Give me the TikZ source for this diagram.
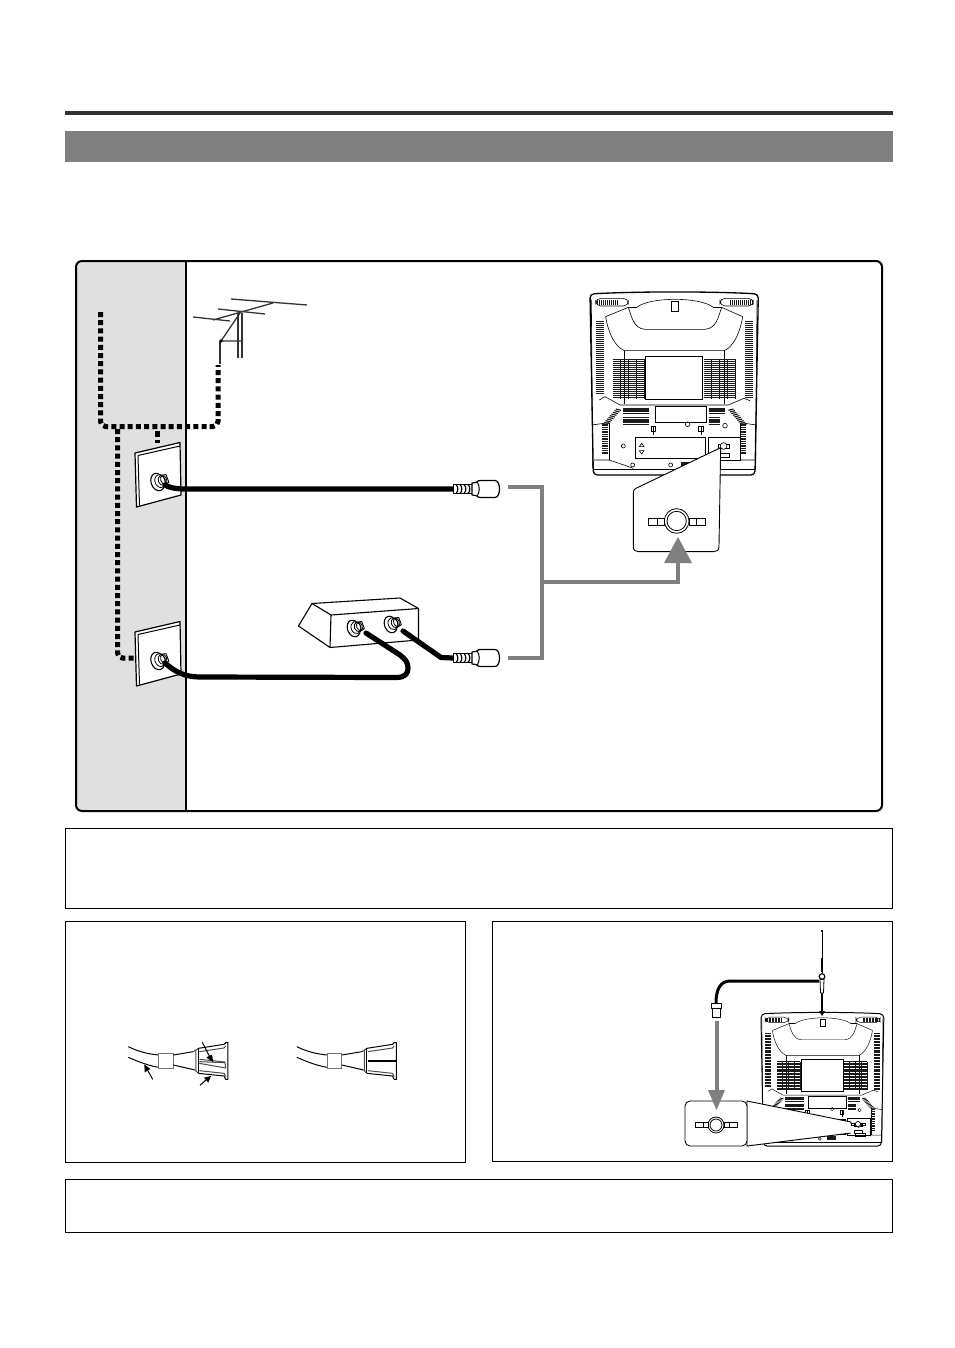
\documentclass[tikz,border=0pt]{standalone}
\usetikzlibrary{calc}
\definecolor{bandgray}{HTML}{808080}
\definecolor{panelgray}{HTML}{E0E0E0}
\definecolor{rulegray}{HTML}{333333}
\definecolor{vent}{HTML}{1A1A1A}
\tikzset{
  framebox/.style={draw=black,line width=1pt,fill=white,inner sep=0pt,outer sep=0pt,anchor=north west},
  dotcable/.style={draw=black,line width=5pt,dash pattern=on 5pt off 3.2pt,rounded corners=5pt},
  coax/.style={draw=black,line width=5.2pt,line cap=round,line join=round},
  greyline/.style={draw=bandgray,line width=4pt,line join=miter},
  greyhead/.style={fill=bandgray,draw=none},
  outline/.style={draw=black,line width=1pt,fill=white,line join=round},
  ant/.style={draw=rulegray,line width=1.3pt},
  tip/.style={fill=black,draw=none},
}
\newlength{\tvlw}\newlength{\tvvent}
% hatch blocks: x1 x2 y1 y2 next
\newcommand{\hatchblock}[5]{%
  \foreach \yy in {#3,#5,...,#4}{\draw[vent,line width=\tvvent] (#1,\yy) -- (#2,\yy);}}
\newcommand{\vhatch}[5]{%
  \foreach \xx in {#1,#5,...,#2}{\draw[vent,line width=.8\tvvent] (\xx,#3) -- (\xx,#4);}}
% TV back, in its own coordinates
\newcommand{\tvback}{%
  \draw[line width=2.2\tvlw,fill=white,rounded corners=4pt] (60,42) .. controls (200,34) and (430,34) .. (565,42) -- (555,585) -- (70,585) -- cycle;
  \begin{scope}[line width=\tvlw,draw=black]
  \draw (68,565) -- (64,60) (557,565) -- (561,60);
  \draw (200,82) .. controls (240,50) and (390,50) .. (430,82);
  \draw (175,82) -- (200,82) (430,82) -- (455,82);
  \draw (175,82) .. controls (185,110) and (190,145) .. (225,148) -- (405,148) .. controls (440,145) and (445,110) .. (455,82);
  \draw (303,65) rectangle (325,93);
  \draw[rounded corners=5pt] (77,55) rectangle (175,78);
  \draw[rounded corners=5pt] (450,55) rectangle (550,78);
  \draw (107,110) -- (175,82) (518,110) -- (455,82);
  \draw (107,110) .. controls (115,160) and (135,200) .. (163,212) -- (463,212) .. controls (490,200) and (510,160) .. (518,110);
  \draw (163,212) -- (163,372) (463,212) -- (463,372);
  \draw (88,360) -- (105,350) -- (150,375) -- (475,375) -- (522,355) -- (540,362);
  \draw (226,229) rectangle (398,358);
  \draw (65,435) -- (118,428) (558,435) -- (512,428);
  \draw (118,428) -- (118,540) (512,428) -- (512,540);
  \draw (72,540) -- (118,540) -- (190,565) (510,540) -- (555,540);
  \draw (70,568) -- (555,568);
  \draw (255,380) rectangle (410,428);
  \draw (195,473) rectangle (405,535);
  \draw (415,472) rectangle (510,540);
  \draw (208,500) -- (215,490) -- (222,500) -- cycle (208,512) -- (215,522) -- (222,512) -- cycle;
  \draw (353,433) circle (7) (465,437) circle (7) (160,498) circle (6) (188,555) circle (6) (302,555) circle (6);
  \draw[line width=1.6\tvlw] (250,438) -- (250,465) (393,438) -- (393,465);
  \draw (243,438) rectangle (257,455) (386,438) rectangle (400,455);
  \draw (445,492) rectangle (478,504) (445,520) rectangle (478,532);
  \draw[fill=white] (461,498) circle (10);
  \end{scope}
  \hatchblock{128}{222}{238}{356}{244}
  \hatchblock{403}{497}{238}{356}{244}
  \vhatch{150}{222}{238}{356}{174}
  \vhatch{425}{497}{238}{356}{449}
  \hatchblock{78}{102}{124}{340}{130}
  \hatchblock{526}{548}{124}{356}{130}
  \hatchblock{160}{238}{385}{404}{390}
  \hatchblock{160}{238}{413}{433}{418}
  \hatchblock{416}{466}{385}{404}{390}
  \hatchblock{416}{450}{413}{433}{418}
  \vhatch{82}{146}{60}{74}{88}
  \vhatch{480}{546}{60}{74}{486}
  \hatchblock{97}{114}{435}{520}{442}
  \hatchblock{512}{529}{435}{520}{442}
  \foreach \k in {0,...,9}{\draw[vent,line width=\tvvent] ($(98,432)+(\k*4.4,-\k*5)$) -- ++(15,4);
    \draw[vent,line width=\tvvent] ($(530,432)+(-\k*4.4,-\k*5)$) -- ++(-15,4);}
  \fill[vent] (332,545) rectangle (370,560);
}
% coax end plug
\newcommand{\coaxplug}[2]{%
  \begin{scope}[shift={(#1,#2)}]
    \draw[outline,line width=.9pt] (0,-4.5) -- (20,-4.5) -- (20,4.5) -- (0,4.5) -- cycle;
    \foreach \t in {3,7,11,15}{\draw[line width=1.2pt] (\t,-4.5) .. controls (\t+2.5,-2) and (\t+2.5,2) .. (\t,4.5);}
    \draw[outline,line width=1.2pt] (19,-6) -- (23,-6.5) .. controls (25,-8.5) and (26,-8.5) .. (29,-8.5) -- (42,-8.5) .. controls (48,-8.5) and (48,8.5) .. (42,8.5) -- (29,8.5) .. controls (26,8.5) and (25,8.5) .. (23,6.5) -- (19,6) -- cycle;
    \draw[line width=1pt] (24,-7.5) .. controls (27,-3) and (27,3) .. (24,7.5);
  \end{scope}}
% socket stud seen at an angle
\newcommand{\stud}[3][1]{%
  \begin{scope}[shift={(#2,#3)},scale=#1,rotate=20]
    \draw[outline,line width=.9pt,fill=white] (1,-6) -- (9,-4) -- (9,4) -- (1,6) -- cycle;
    \draw[outline,line width=1.1pt] (-1.5,0) ellipse (6.5 and 9);
    \draw[line width=.8pt,fill=white] (1,0) ellipse (5 and 6.5);
    \draw[line width=.8pt] (3,0) ellipse (3.5 and 5);
    \draw[line width=.8pt] (5,0) ellipse (3 and 4.5);
  \end{scope}}
% crimped lead end, zoomed coordinates
\newcommand{\crimp}{%
  \draw[line width=1pt] (55,80) .. controls (85,95) and (115,102) .. (146,105);
  \draw[line width=1pt] (55,112) .. controls (85,125) and (115,137) .. (146,142);
  \draw[line width=1pt,draw=black!55] (146,100) rectangle (190,145);
  \draw[line width=1pt] (190,105) -- (250,95) (190,135) -- (255,150);
  \draw[line width=1pt,draw=black!70] (250,95) -- (265,85) (255,150) -- (265,160) (258,92) -- (258,155);
  \draw[line width=1pt] (265,85) -- (265,160);
  \draw[line width=1pt] (265,85) -- (342,73) -- (347,68) -- (354,68) -- (354,178) -- (347,178) -- (342,168) -- (265,160);
  \draw[line width=1pt,draw=black!70] (268,95) -- (342,84) -- (347,78);
  \draw[line width=1pt,draw=black!70] (268,152) -- (342,160) -- (347,170);
}
\begin{document}
\begin{tikzpicture}[x=1pt,y=-1pt]
\path[use as bounding box,fill=white] (0,0) rectangle (954,1348);
% header
\fill[rulegray] (65,111) rectangle (893,115);
\fill[bandgray] (65,131) rectangle (893,162);
% main frame
\begin{scope}
  \clip[rounded corners=6pt] (76,261) rectangle (882,811);
  \fill[panelgray] (76,261) rectangle (186,811);
\end{scope}
\draw[line width=2pt,rounded corners=6pt] (76,261) rectangle (882,811);
\draw[line width=1.6pt] (186,261) -- (186,811);
% other boxes
\node[framebox,minimum width=827pt,minimum height=80pt] (note1) at (65.3,828.5) {};
\node[framebox,minimum width=400.5pt,minimum height=241pt] (crimpbox) at (65.3,921.5) {};
\node[framebox,minimum width=400pt,minimum height=240pt] (rodbox) at (492.5,921.5) {};
\node[framebox,minimum width=827pt,minimum height=53pt] (note2) at (65.3,1179.5) {};
% coordinates of cables
\coordinate (wallA) at (165,485);
\coordinate (wallB) at (165,663);
\coordinate (plugA) at (453,489);
\coordinate (plugB) at (453,658);
\coordinate (boxIn) at (366,633);
\coordinate (boxOut) at (403,631);
% antenna
\draw[ant] (231,299) -- (307,305) (218,309) -- (265,314) (193,317) -- (230,321);
\draw[ant] (213,320) -- (273,303);
\draw[ant] (240,313) -- (221,341) -- (243,341);
\draw[ant] (238,313) -- (238,358) (242,313) -- (242,358);
\draw[ant] (220,341) -- (220,364);
\fill[black] (221,341) circle (1.8);
% dotted in-wall cabling
\coordinate (antFoot) at (218,365);
\coordinate (riserTop) at (100.5,312);
\coordinate (jogA) at (100.5,426.5);
\coordinate (jogB) at (218,426.5);
\coordinate (teeA) at (117.5,429);
\coordinate (teeB) at (157,431);
\draw[dotcable] (riserTop) -- (jogA) -- (jogB) -- (antFoot);
\draw[dotcable] (teeA) -- (117.5,658) -- (134,658);
\draw[dotcable,dash pattern=on 6pt off 3pt] (teeB) -- (157,443);
% wall plates
\foreach \dy in {0,179}{
  \begin{scope}[shift={(0,\dy)}]
  \draw[line width=1.2pt,fill=white,line join=round] (135,453) -- (180,442.5) -- (181,495) -- (136.5,507) -- cycle;
  \draw[line width=1pt] (138,455.5) -- (180,446) (138,455.5) -- (139.5,505.5);
  \stud{159}{481.5}
  \end{scope}
}
% cables
\draw[coax] (wallA) .. controls (172,489) and (180,489) .. (190,489) -- (plugA);
\coaxplug{453}{489}
% splitter
\draw[outline,line width=1.1pt] (312,603.5) -- (400,598) -- (418.5,608.5) -- (418.5,640) -- (330,647.5) -- (298.5,626) -- cycle;
\draw[line width=1.1pt] (312,603.5) -- (331,615) -- (418.5,608.5) (331,615) -- (330,647.5);
\stud[.95]{355}{628}
\stud[.95]{392}{624}
\draw[coax] (wallB) .. controls (175,672) and (185,677) .. (200,677) -- (396,677.5) .. controls (406,677.5) and (408,673) .. (408,668) .. controls (408,662) and (405,659) .. (400,655) -- (boxIn);
\draw[coax] (boxOut) -- (441,657.5) -- (plugB);
\coaxplug{453}{658}
% grey connection
\draw[greyline] (508,487) -- (542,487) -- (542,658) -- (508,658);
\draw[greyline] (542,582) -- (678,582) -- (678,562);
% first TV
\setlength{\tvlw}{.6pt}\setlength{\tvvent}{1.15pt}
\begin{scope}[shift={(570,280)},scale=.3333]
\tvback
\draw[outline,line width=.9pt] (190,650) -- (190,640) .. controls (190,630) and (194,627) .. (198,625) -- (452,503) -- (447,800) .. controls (447,811) and (440,815) .. (432,815) -- (205,815) .. controls (196,815) and (190,811) .. (190,800) -- cycle;
\draw[line width=.8pt,fill=white] (320,723) circle (37);
\draw[line width=.8pt,fill=white] (320,723) circle (29);
\draw[line width=.8pt,fill=white] (234,714) rectangle (283,737) (357,714) rectangle (405,737);
\draw[line width=.8pt] (262,714) -- (262,737) (378,714) -- (378,737);
\end{scope}
\draw[greyhead] (664,563) -- (678,537) -- (692,563) -- cycle;
% crimp illustrations
\begin{scope}[shift={(110,1020)},scale=.3333]
\crimp
\draw[line width=1pt,draw=black!70] (268,125) -- (345,128) -- (347,144) -- (268,130);
\draw[line width=1pt,draw=black!70] (268,118) -- (345,126);
\draw[line width=1pt] (128,178) -- (112,149);
\fill[tip] (103,133) -- (104,157) -- (121,147) -- cycle;
\draw[line width=1pt] (277,67) -- (298,108);
\fill[tip] (310,127) -- (289,112) -- (306,104) -- cycle;
\draw[line width=1pt] (270,196) -- (288,180);
\fill[tip] (303,168) -- (282,173) -- (295,188) -- cycle;
\end{scope}
\begin{scope}[shift={(278.5,1020)},scale=.3333]
\crimp
\draw[line width=2pt] (268,122) -- (354,122);
\end{scope}
% rod antenna and second TV
\setlength{\tvlw}{.45pt}\setlength{\tvvent}{.85pt}
\begin{scope}[shift={(746.3,1003.7)},scale=.2435]
\tvback
\end{scope}
\coordinate (rodBase) at (822,990);
\coordinate (tvTop) at (822,1014);
\coordinate (leadStart) at (819,981);
\coordinate (leadEnd) at (716,1003);
\draw[line width=.7pt] (822,931) -- (822,973);
\draw[line width=1.6pt] (821,931) -- (823,931);
\draw[line width=1.4pt] (822,958) -- (822,972);
\draw[line width=1.8pt] (rodBase) -- (tvTop);
\fill[black] (822,1016) -- (819,1011) -- (825,1011) -- cycle;
\draw[outline,line width=.8pt] (820,979) -- (824,979) -- (823.5,993) -- (820.5,993) -- cycle;
\draw[outline,line width=1.2pt] (822,976.5) circle (2.8);
\draw[line width=3pt] (leadStart) -- (730,981) .. controls (720,981) and (716,990) .. (leadEnd);
\draw[outline,line width=.8pt] (711,1003) rectangle (721,1008);
\draw[outline,line width=.8pt] (712,1008) rectangle (720,1017);
% callout on second TV
\draw[outline,line width=.9pt,line join=miter] (747,1101) -- (851,1122) -- (851,1133) -- (747,1146) -- cycle;
\draw[draw=white,line width=2pt] (851,1123.5) -- (851,1132.5);
\draw[line width=.7pt,fill=white] (858,1124) circle (2.6);
\draw[line width=.6pt] (851,1123) rectangle (855,1125) (861,1123) rectangle (865,1125);
\draw[line width=.6pt] (855,1133) rectangle (865,1136);
\draw[line width=.9pt,fill=white,rounded corners=5pt] (685,1101) rectangle (747,1146);
\draw[line width=.8pt,fill=white] (716,1125) circle (8);
\draw[line width=.8pt,fill=white] (716,1125) circle (6);
\draw[line width=.8pt,fill=white] (695,1122) rectangle (708,1127) (724,1122) rectangle (737,1127);
\draw[line width=.7pt] (703,1122) -- (703,1127) (729,1122) -- (729,1127);
% grey arrow on second TV
\draw[greyline] (716.5,1021) -- (716.5,1095);
\draw[greyhead] (708,1090) -- (716.5,1110) -- (725,1090) -- cycle;
\end{tikzpicture}
\end{document}
